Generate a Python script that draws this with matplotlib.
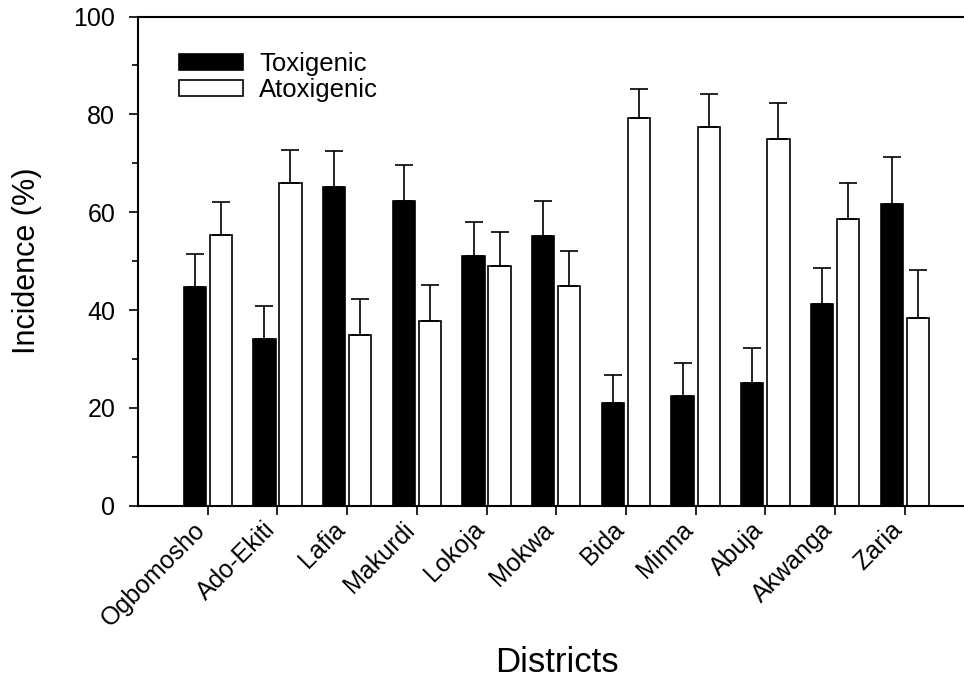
import matplotlib
matplotlib.use("Agg")
import matplotlib.pyplot as plt
import matplotlib.transforms as mtransforms
import numpy as np
from matplotlib.ticker import MultipleLocator

plt.rcParams["font.family"] = ["Liberation Sans", "DejaVu Sans"]

districts = ["Ogbomosho", "Ado-Ekiti", "Lafia", "Makurdi", "Lokoja", "Mokwa",
             "Bida", "Minna", "Abuja", "Akwanga", "Zaria"]
toxigenic = [44.7, 34.0, 65.1, 62.3, 51.0, 55.2, 20.9, 22.5, 25.0, 41.3, 61.6]
toxigenic_err = [6.7, 6.8, 7.4, 7.3, 6.9, 7.1, 5.8, 6.7, 7.3, 7.3, 9.7]
atoxigenic = [55.4, 66.0, 34.9, 37.8, 49.0, 44.9, 79.2, 77.5, 75.0, 58.7, 38.4]
atoxigenic_err = [6.7, 6.8, 7.3, 7.3, 7.0, 7.2, 5.9, 6.7, 7.4, 7.3, 9.8]

x = np.arange(len(districts))
w = 0.32
off = 0.187

fig = plt.figure(figsize=(9.64, 6.8), dpi=100)
ax = fig.add_axes([0.1432, 0.2563, 0.8568, 0.7194])

ekw = dict(ecolor="black", elinewidth=1.2, capsize=6.2, capthick=1.2)
ax.bar(x - off, toxigenic, w, color="black", edgecolor="black", linewidth=1.2,
       yerr=[np.zeros(len(x)), toxigenic_err], error_kw=ekw, label="Toxigenic")
ax.bar(x + off, atoxigenic, w, color="white", edgecolor="black", linewidth=1.2,
       yerr=[np.zeros(len(x)), atoxigenic_err], error_kw=ekw, label="Atoxigenic")

ax.set_xlim(-1, 10.85)
ax.set_ylim(0, 100)
ax.yaxis.set_major_locator(MultipleLocator(20))
ax.yaxis.set_minor_locator(MultipleLocator(10))
ax.set_xticks(x)
ax.set_xticklabels(districts, rotation=45, ha="right", va="center",
                   rotation_mode="anchor")

ax.spines["right"].set_visible(False)
for s in ["top", "left", "bottom"]:
    ax.spines[s].set_linewidth(1.5)

ax.tick_params(axis="both", which="major", direction="out", length=6.5, width=1.2,
               labelsize=18)
ax.tick_params(axis="y", which="major", pad=10)
ax.tick_params(axis="y", which="minor", direction="out", length=4, width=1.2)
ax.tick_params(axis="x", pad=8)

# nudge the rotated labels a little to the left of their ticks
# (after tick_params, which resets the label transforms)
shift = mtransforms.ScaledTranslation(-6 / 100, 0, fig.dpi_scale_trans)
for lab in ax.get_xticklabels():
    lab.set_transform(lab.get_transform() + shift)

ax.set_ylabel("Incidence (%)", fontsize=22)
ax.yaxis.set_label_coords(-0.116, 0.5)
ax.set_xlabel("Districts", fontsize=25, va="baseline")
ax.xaxis.set_label_coords(0.507, -0.34)

ax.legend(loc="upper left", bbox_to_anchor=(0.05, 0.928), frameon=False,
          fontsize=18.5, handlelength=2.49, handleheight=0.58, handletextpad=0.62,
          labelspacing=0.1, borderpad=0, borderaxespad=0)

fig.savefig("out.png", dpi=100)
